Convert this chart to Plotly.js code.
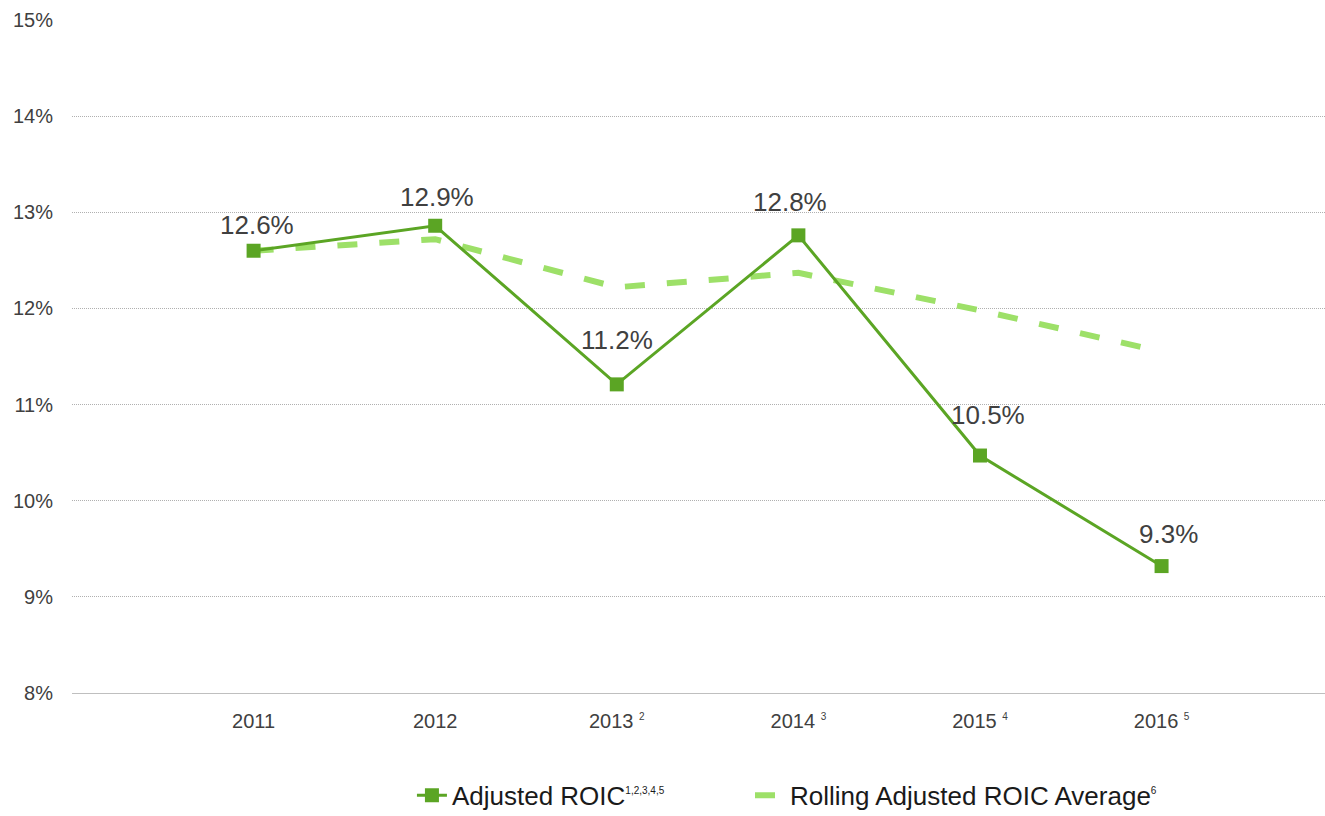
<!DOCTYPE html>
<html>
<head>
<meta charset="utf-8">
<script src="https://cdn.plot.ly/plotly-3.0.1.min.js"></script>
<style>html,body{margin:0;padding:0;background:#fff;}#chart{width:1325px;height:816px;}</style>
</head>
<body>
<div id="chart"></div>
<script>
const categories = ["2011", "2012", "2013", "2014", "2015", "2016"];
const tickLabels = ["2011", "2012", "2013 <sup><span style=\"font-size:10px\">2</span></sup>", "2014 <sup><span style=\"font-size:10px\">3</span></sup>", "2015 <sup><span style=\"font-size:10px\">4</span></sup>", "2016 <sup><span style=\"font-size:10px\">5</span></sup>"];
const adjustedROIC = [12.6, 12.86, 11.21, 12.76, 10.47, 9.32];
const adjustedLabels = ["12.6%", "12.9%", "11.2%", "12.8%", "10.5%", "9.3%"];
const rollingAvg = [12.6, 12.72, 12.22, 12.37, 11.98, 11.55];
const seriesNames = ["Adjusted ROIC<sup><span style=\"font-size:10px\">1,2,3,4,5</span></sup>", "Rolling Adjusted ROIC Average<sup><span style=\"font-size:10px\">6</span></sup>"];

// label placement offsets (pixels) relative to each point
const labelDX = [3, 2, 0, -8, 8, 7];
const labelDY = [26, 29, 44, 33, 41, 32];

const FONT = 'Liberation Sans, Arial, sans-serif';

const traces = [
  {
    x: categories, y: rollingAvg, name: seriesNames[1], type: 'scatter', mode: 'lines',
    line: {color: '#9de068', width: 6, dash: '20px,22px'},
    legend: 'legend2', hoverinfo: 'skip'
  },
  {
    x: categories, y: adjustedROIC, name: seriesNames[0], type: 'scatter', mode: 'lines+markers',
    line: {color: '#5ba524', width: 3},
    marker: {symbol: 'square', size: 14, color: '#5ba524'},
    legend: 'legend'
  }
];

const annotations = categories.map((c, i) => ({
  x: i, y: adjustedROIC[i], xref: 'x', yref: 'y',
  text: adjustedLabels[i], showarrow: false,
  xanchor: 'center', yanchor: 'middle',
  xshift: labelDX[i], yshift: labelDY[i],
  font: {family: FONT, size: 26, color: '#404040'}
}));

const legendFont = {family: FONT, size: 26, color: '#1a1a1a'};

const layout = {
  width: 1325, height: 816,
  margin: {l: 72, r: 0, t: 20, b: 123, autoexpand: false},
  paper_bgcolor: '#ffffff', plot_bgcolor: '#ffffff',
  showlegend: true,
  legend: {orientation: 'h', x: 0.2713, xanchor: 'left', y: -0.152, yanchor: 'middle', font: legendFont},
  legend2: {orientation: 'h', x: 0.5411, xanchor: 'left', y: -0.152, yanchor: 'middle', font: legendFont},
  annotations: annotations,
  xaxis: {
    type: 'category', range: [-1, 5.9],
    tickvals: categories, ticktext: tickLabels,
    showgrid: false, zeroline: false, showline: true, linecolor: '#bfbfbf', linewidth: 1,
    ticks: '', ticklabelstandoff: 10,
    tickfont: {family: FONT, size: 20, color: '#404040'}
  },
  yaxis: {
    range: [8, 15], dtick: 1, ticksuffix: '%',
    showgrid: true, gridcolor: '#b0b0b0', griddash: '1px,1px', gridwidth: 1,
    zeroline: false, showline: false, ticks: '', ticklabelstandoff: 18,
    tickfont: {family: FONT, size: 20, color: '#404040'}
  },
  font: {family: FONT}
};

Plotly.newPlot('chart', traces, layout, {displayModeBar: false, staticPlot: true});
</script>
</body>
</html>
